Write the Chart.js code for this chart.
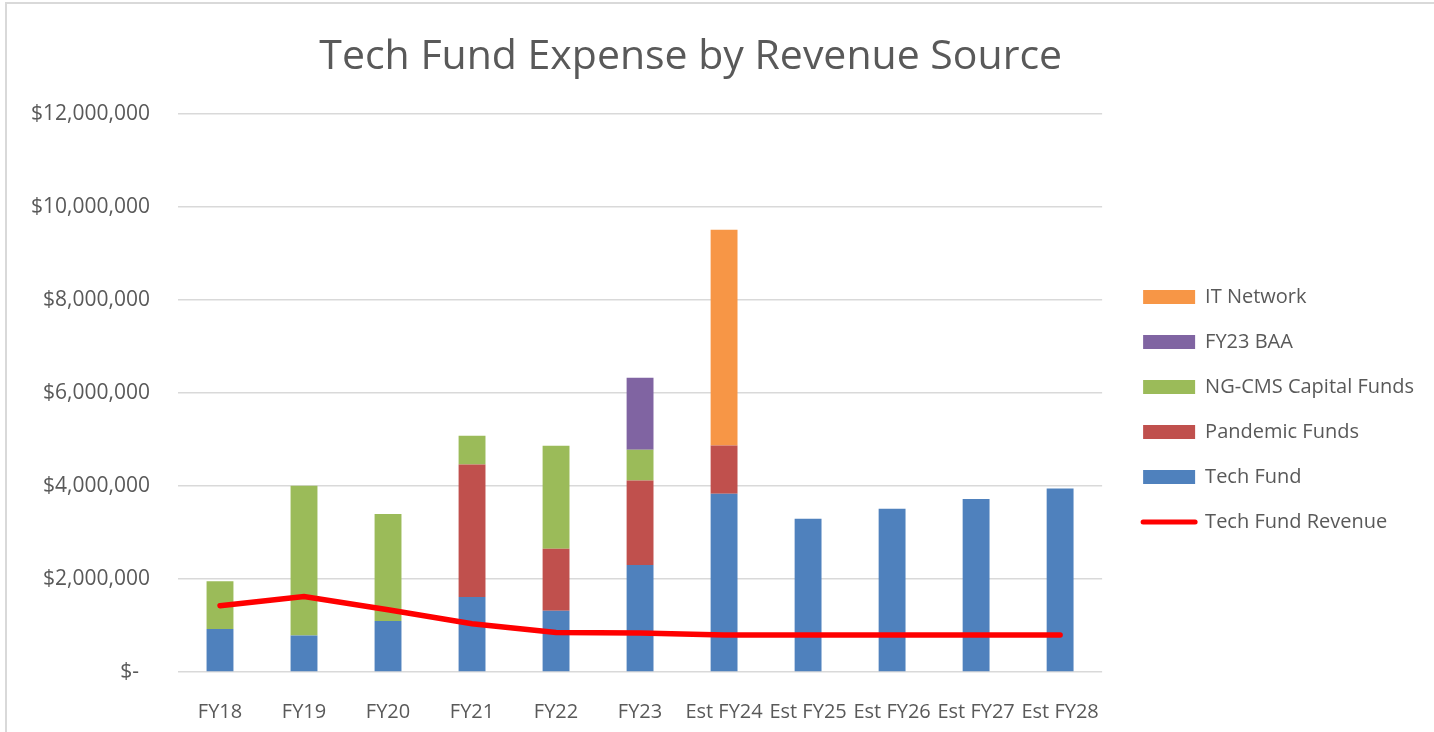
<!DOCTYPE html>
<html lang="en">
    <head>
        <meta charset="UTF-8" />
        <title>Tech Fund Expense by Revenue Source</title>
        <script src="https://cdn.jsdelivr.net/npm/chart.js"></script>
        <style>
            body { margin: 0; overflow: hidden; background: #fff; }
            #frame {
                position: absolute; left: 5px; top: 2px;
                width: 2000px; height: 2000px;
                border: 2px solid #d9d9d9;
            }
            #wrap { position: absolute; left: 0; top: 0; width: 1434px; height: 732px; }
        </style>
    </head>
    <body>
        <div id="frame"></div>
        <div id="wrap"><canvas id="grafico"></canvas></div>

        <script>
            // Categorias y series
            const years = ["FY18", "FY19", "FY20", "FY21", "FY22", "FY23",
                "Est FY24", "Est FY25", "Est FY26", "Est FY27", "Est FY28"];
            const techFund   = [925000, 787000, 1097000, 1613000, 1318000, 2300000, 3834000, 3297000, 3512000, 3720000, 3948000];
            const pandemic   = [0, 0, 0, 2852000, 1334000, 1820000, 1039000, 0, 0, 0, 0];
            const ngCms      = [1025000, 3219000, 2301000, 617000, 2215000, 660000, 0, 0, 0, 0, 0];
            const fy23Baa    = [0, 0, 0, 0, 0, 1550000, 0, 0, 0, 0, 0];
            const itNetwork  = [0, 0, 0, 0, 0, 0, 4639000, 0, 0, 0, 0];
            const revenue    = [1426000, 1626000, 1340000, 1040000, 852000, 840000, 796000, 796000, 796000, 796000, 796000];

            const gris = "#595959";
            const fuente = "'Open Sans', sans-serif";

            function barra(label, data, color) {
                return {
                    type: "bar",
                    label: label,
                    data: data,
                    backgroundColor: color,
                    borderWidth: 0,
                    stack: "gastos",
                    order: 1,
                    barPercentage: 0.32,
                    categoryPercentage: 1,
                };
            }

            const ctx = document.getElementById("grafico").getContext("2d");
            const chart = new Chart(ctx, {
                data: {
                    labels: years,
                    datasets: [
                        {
                            type: "line",
                            label: "Tech Fund Revenue",
                            data: revenue,
                            borderColor: "#ff0000",
                            backgroundColor: "#ff0000",
                            borderWidth: 5.5,
                            borderCapStyle: "round",
                            pointRadius: 0,
                            tension: 0,
                            stack: "linea",
                            order: 0,
                        },
                        barra("Tech Fund", techFund, "#4f81bd"),
                        barra("Pandemic Funds", pandemic, "#c0504d"),
                        barra("NG-CMS Capital Funds", ngCms, "#9bbb59"),
                        barra("FY23 BAA", fy23Baa, "#8064a2"),
                        barra("IT Network", itNetwork, "#f79646"),
                    ],
                },
                options: {
                    responsive: true,
                    maintainAspectRatio: false,
                    animation: false,
                    layout: { padding: { left: 0, right: 10, top: 0, bottom: 0 } },
                    scales: {
                        x: {
                            stacked: true,
                            grid: { display: false },
                            border: { display: false },
                            ticks: {
                                color: gris,
                                font: { family: fuente, size: 20 },
                                padding: 20,
                                autoSkip: false,
                                maxRotation: 0,
                                minRotation: 0,
                            },
                            afterFit: (s) => { s.height = 60; },
                        },
                        y: {
                            stacked: true,
                            min: 0,
                            max: 12000000,
                            border: { display: false },
                            grid: { color: "#d9d9d9", lineWidth: 1.5, drawTicks: false },
                            ticks: {
                                stepSize: 2000000,
                                color: gris,
                                font: { family: fuente, size: 21 },
                                padding: 28,
                                callback: (v) => v === 0 ? "$-  " : "$" + v.toLocaleString("en-US"),
                            },
                            afterFit: (s) => { s.width = 178; },
                        },
                        y2: {
                            position: "right",
                            display: true,
                            grid: { display: false },
                            border: { display: false },
                            ticks: { display: false },
                            afterFit: (s) => { s.width = 16; },
                        },
                    },
                    plugins: {
                        title: {
                            display: true,
                            // espacios finales para centrar el titulo sobre el marco original
                            text: "Tech Fund Expense by Revenue Source\u00a0\u00a0\u00a0\u00a0",
                            color: gris,
                            font: { family: fuente, size: 41, weight: "normal" },
                            padding: { top: 33, bottom: 32 },
                        },
                        tooltip: { enabled: false },
                        legend: {
                            position: "right",
                            align: "start",
                            maxWidth: 316,
                            title: { display: true, text: "", font: { size: 12 }, padding: { top: 247.6, bottom: 0 } },
                            labels: {
                                color: gris,
                                font: { family: fuente, size: 20 },
                                usePointStyle: true,
                                pointStyleWidth: 52,
                                boxHeight: 14,
                                padding: 25,
                                generateLabels: (c) => {
                                    const items = Chart.defaults.plugins.legend.labels.generateLabels(c);
                                    items.forEach((it) => {
                                        if (it.datasetIndex === 0) {
                                            it.pointStyle = "line";
                                            it.lineWidth = 5;
                                            it.lineCap = "round";
                                        } else {
                                            it.pointStyle = "rect";
                                            it.lineWidth = 0;
                                        }
                                    });
                                    return items;
                                },
                                sort: (a, b) => {
                                    const rank = (it) => it.datasetIndex === 0 ? 99 : -it.datasetIndex;
                                    return rank(a) - rank(b);
                                },
                            },
                        },
                    },
                },
            });
        </script>
    </body>
</html>
